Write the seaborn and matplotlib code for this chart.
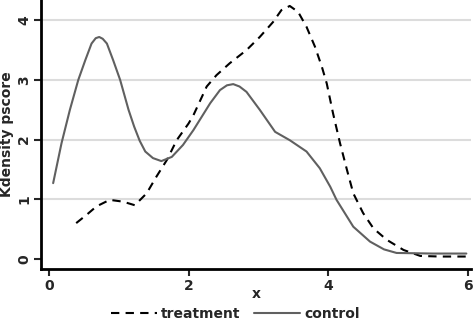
import numpy as np
import pandas as pd
import matplotlib
matplotlib.use("Agg")
import matplotlib.pyplot as plt
import seaborn as sns

# values
treat_x = [0.39, 0.55, 0.68, 0.87, 1.06, 1.23, 1.40, 1.54, 1.69, 1.83, 2.0, 2.07, 2.26, 2.40,
           2.59, 2.83, 3.02, 3.21, 3.33, 3.45, 3.57, 3.69, 3.81, 3.91, 3.98, 4.07, 4.17,
           4.27, 4.36, 4.50, 4.65, 4.84, 5.08, 5.32, 5.60, 5.98]
treat_y = [0.60, 0.75, 0.88, 0.99, 0.96, 0.90, 1.10, 1.38, 1.66, 1.99, 2.27, 2.41, 2.89, 3.08,
           3.28, 3.50, 3.72, 3.97, 4.17, 4.24, 4.14, 3.89, 3.56, 3.22, 2.94, 2.44, 1.94,
           1.49, 1.10, 0.77, 0.51, 0.32, 0.15, 0.05, 0.04, 0.04]

ctrl_x = [0.06, 0.18, 0.30, 0.42, 0.52, 0.61, 0.67, 0.72, 0.77, 0.83, 0.92, 1.02, 1.14,
          1.22, 1.30, 1.38, 1.49, 1.61, 1.76, 1.92, 2.07, 2.31, 2.45, 2.55, 2.64, 2.73, 2.83,
          3.02, 3.24, 3.45, 3.69, 3.88, 4.03, 4.12, 4.36, 4.60, 4.80, 4.98, 5.50, 5.98]
ctrl_y = [1.27, 1.94, 2.50, 3.00, 3.33, 3.61, 3.70, 3.72, 3.69, 3.61, 3.33, 3.00, 2.50,
          2.22, 1.98, 1.80, 1.69, 1.64, 1.71, 1.91, 2.16, 2.61, 2.83, 2.91, 2.93, 2.89, 2.80,
          2.50, 2.13, 1.99, 1.80, 1.52, 1.21, 0.99, 0.54, 0.29, 0.16, 0.10, 0.09, 0.09]

df_t = pd.DataFrame({"x": treat_x, "y": treat_y})
df_c = pd.DataFrame({"x": ctrl_x, "y": ctrl_y})

sns.set_style("white")
plt.rcParams["font.family"] = ["DejaVu Sans"]
plt.rcParams["font.weight"] = "bold"

fig = plt.figure(figsize=(4.76, 3.23), dpi=100)
ax = fig.add_axes([0.086, 0.167, 0.904, 0.833])

for yv in [1, 2, 3, 4]:
    ax.axhline(yv, color="#dcdcdc", lw=1.5, zorder=0)

sns.lineplot(data=df_t, x="x", y="y", ax=ax, color="black", lw=1.5,
             linestyle=(0, (4, 3)), label="treatment", sort=False)
sns.lineplot(data=df_c, x="x", y="y", ax=ax, color="#606060", lw=1.5,
             label="control", sort=False)

ax.set_xlim(-0.115, 6.05)
ax.set_ylim(-0.17, 4.34)
ax.set_xticks([0, 2, 4, 6])
ax.set_yticks([0, 1, 2, 3, 4])
ax.set_xlabel("x", fontsize=10, fontweight="bold")
ax.set_ylabel("Kdensity pscore", fontsize=10, fontweight="bold")
ax.xaxis.set_label_coords(0.5, -0.067)
ax.yaxis.set_label_coords(-0.063, 0.5)

for s in ["top", "right"]:
    ax.spines[s].set_visible(False)
for s in ["left", "bottom"]:
    ax.spines[s].set_linewidth(2)
    ax.spines[s].set_color("black")

ax.tick_params(axis="both", direction="out", length=5, width=1.5, labelsize=10,
               left=True, bottom=True, pad=2)
for lab in ax.get_yticklabels():
    lab.set_rotation(90)
    lab.set_va("center")
    lab.set_fontweight("bold")
for lab in ax.get_xticklabels():
    lab.set_fontweight("bold")

h, l = ax.get_legend_handles_labels()
ax.get_legend().remove()
fig.legend(h, l, loc="center", bbox_to_anchor=(0.494, 0.028), ncol=2, frameon=False,
           handlelength=3.3, columnspacing=1.0, handletextpad=0.3,
           borderpad=0.1, prop={"weight": "bold", "size": 10})

fig.savefig("out.png", dpi=100)
